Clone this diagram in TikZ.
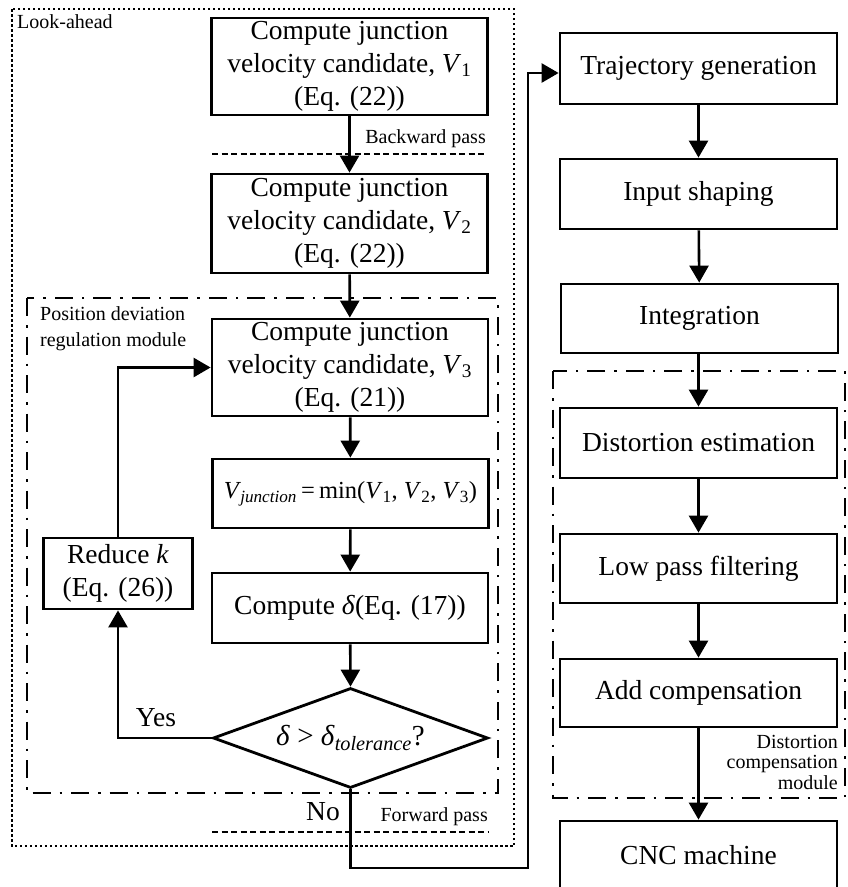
\documentclass[tikz,border=0pt]{standalone}
\usepackage{fontspec}
\setmainfont{Liberation Serif}
\usetikzlibrary{arrows.meta,shapes.geometric,calc}
\newcommand\Vsub[1]{\textit{V}\textsubscript{#1}}
\tikzset{
  bigfont/.style={font=\fontsize{27.5}{33}\selectfont},
  smallfont/.style={font=\fontsize{20}{21}\selectfont},
  box/.style={draw, line width=2.8pt, inner sep=0pt, align=center, bigfont, minimum width=276pt},
  conn/.style={line width=2.6pt, -{Triangle[width=19pt,length=17pt]}},
  dotbox/.style={line width=2.6pt, dash pattern=on 2.5pt off 2.5pt},
  dashdotbox/.style={line width=2.6pt, dash pattern=on 18pt off 9pt on 2.5pt off 9pt},
  dashline/.style={line width=2.6pt, dash pattern=on 6pt off 3.5pt},
}
\begin{document}
\begin{tikzpicture}[x=1pt,y=-1pt]
\clip (0,0) rectangle (847,887);
\fill[white] (0,0) rectangle (847,887);

% group frames
\draw[dotbox] (12,9) rectangle (514,846);
\draw[dashdotbox] (27,298) rectangle (498,793);
\draw[dashdotbox] (553,371) rectangle (845,798);

% left column
\node[box, minimum height=97pt] (v1) at (349.5,66.5) {Compute junction\\velocity candidate, \Vsub{1}\\(Eq. (22))};
\node[box, minimum height=99pt] (v2) at (349.5,223.5) {Compute junction\\velocity candidate, \Vsub{2}\\(Eq. (22))};
\node[box, minimum height=97pt] (v3) at (350,367.5) {Compute junction\\velocity candidate, \Vsub{3}\\(Eq. (21))};
\node[box, minimum height=69pt, font=\fontsize{24.5}{30}\selectfont] (vj) at (350.5,493.5) {\Vsub{\textit{\kern-0.05em junction}}\,=\,min(\Vsub{1}, \Vsub{2}, \Vsub{3})};
\node[box, minimum height=70pt] (cd) at (350,608) {Compute \textit{δ}(Eq. (17))};
\node[draw, diamond, shape aspect=2.75, line width=2.8pt, inner sep=0pt, font=\fontsize{29}{33}\selectfont, minimum width=275pt, minimum height=100pt] (dia) at (350.5,738) {\textit{δ} > \textit{δ}\textsubscript{\textit{tolerance}}?};
\node[box, minimum width=149pt, minimum height=71pt] (rk) at (118,573.5) {Reduce \textit{k}\\(Eq. (26))};

% right column
\node[box, minimum width=277pt, minimum height=71pt] (tg) at (698.5,68.5) {Trajectory generation};
\node[box, minimum width=277pt, minimum height=70pt] (is) at (698.5,194) {Input shaping};
\node[box, minimum width=277pt, minimum height=69pt] (ig) at (699.5,318.5) {Integration};
\node[box, minimum width=277pt, minimum height=70pt] (de) at (698.5,443) {Distortion estimation};
\node[box, minimum width=277pt, minimum height=69pt] (lp) at (698.5,568.5) {Low pass filtering};
\node[box, minimum width=277pt, minimum height=68pt] (ac) at (698.5,693) {Add compensation};
\node[box, minimum width=277pt, minimum height=84pt] (cnc) at (698.5,863) {};
\node[bigfont] at (698.5,855) {CNC machine};

% pass lines
\coordinate (bpL) at (212,154); \coordinate (bpR) at (487,154);
\coordinate (fpL) at (212,832); \coordinate (fpR) at (489,832);
\draw[dashline] (bpL) -- (bpR);
\draw[dashline] (fpL) -- (fpR);

% labels
\node[smallfont, anchor=west, inner sep=0pt] (la) at (17,22) {Look-ahead};
\node[smallfont, anchor=east, inner sep=0pt] (bp) at (486,139) {Backward pass};
\node[smallfont, anchor=east, inner sep=0pt] (fp) at (488,817) {Forward pass};
\node[anchor=west, align=left, inner sep=0pt, font=\fontsize{20}{26}\selectfont] (pd) at (40,329) {Position deviation\\regulation module};
\node[anchor=east, align=right, inner sep=0pt, font=\fontsize{20}{20.5}\selectfont] (dc) at (838,762) {Distortion\\compensation\\module};
\node[bigfont, inner sep=0pt] (yes) at (156,718) {Yes};
\node[bigfont, inner sep=0pt] (no) at (323,812) {No};

% connectors
\draw[conn] (v1) -- (v2);
\draw[conn] (v2) -- (v3);
\draw[conn] (v3) -- (vj);
\draw[conn] (vj) -- (cd);
\draw[conn] (cd) -- (dia.north);
\draw[conn] (dia.west) -| (rk.south);
\draw[conn] (rk.north) |- (v3.west);
\coordinate (c1) at (528,868);
\draw[conn] (dia.south) |- (c1) |- ([yshift=-4.5pt]tg.west);

\draw[conn] (tg) -- (is);
\draw[conn] (is) -- (ig);
\draw[conn] (ig.south -| de.north) -- (de);
\draw[conn] (de) -- (lp);
\draw[conn] (lp) -- (ac);
\draw[conn] (ac) -- (cnc);
\end{tikzpicture}
\end{document}
